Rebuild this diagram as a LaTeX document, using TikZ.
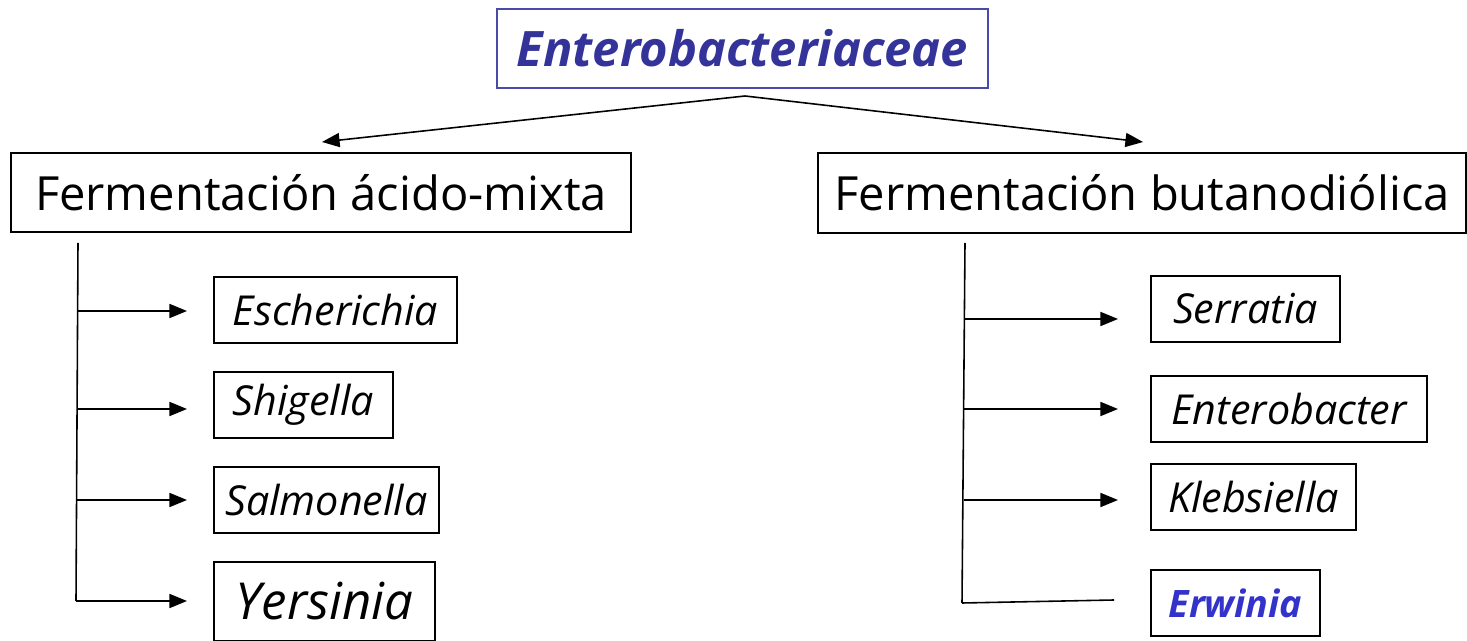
\documentclass[tikz,border=0pt]{standalone}
\usepackage{fontspec}
\setmainfont{Open Sans}
\usetikzlibrary{arrows.meta}
\definecolor{titleblue}{HTML}{333399}
\definecolor{titleframe}{HTML}{4A4AA8}
\definecolor{erwblue}{HTML}{3333CC}
\tikzset{
  box/.style={draw=black, line width=0.9pt, inner sep=0pt, align=center},
  genus/.style={box, minimum height=1.32cm, font=\fontsize{23.5}{26}\selectfont\itshape},
  branch/.style={line width=0.9pt},
  tip/.style={branch, -{Triangle[length=10pt,width=8pt]}},
}
\begin{document}
\begin{tikzpicture}[x=0.02cm, y=-0.02cm]
\useasboundingbox (0,0) rectangle (1467,641);

% family
\node[box, draw=titleframe, minimum width=9.82cm, minimum height=1.58cm,
      text=titleblue, font=\fontsize{27.8}{30}\selectfont\bfseries\itshape]
      (fam) at (742.5,48.5) {Enterobacteriaceae};

% fermentation types
\node[box, minimum width=12.4cm, minimum height=1.58cm,
      font=\fontsize{26.8}{30}\selectfont] (mix) at (321,192.5) {Fermentación ácido-mixta};
\node[box, minimum width=12.96cm, minimum height=1.6cm,
      font=\fontsize{26.8}{30}\selectfont] (but) at (1142,193) {Fermentación butanodiólica};

% genera, mixed-acid
\node[genus, minimum width=4.86cm] (esc) at (335.5,310) {Escherichia};
\node[genus, minimum width=3.58cm] (shi) at (303.5,405) {Shigella};
\node[genus, minimum width=4.5cm]  (sal) at (326.5,500) {Salmonella};
\node[genus, minimum width=4.42cm, minimum height=1.58cm,
      font=\fontsize{29}{32}\selectfont\itshape] (yer) at (324.5,601.5) {Yersinia};

% genera, butanediol
\node[genus, minimum width=3.78cm] (ser) at (1245.5,309) {Serratia};
\node[genus, minimum width=5.52cm] (ent) at (1289,409) {Enterobacter};
\node[genus, minimum width=4.1cm]  (kle) at (1253.5,497) {Klebsiella};
\node[genus, minimum width=3.38cm, text=erwblue,
      font=\fontsize{21.5}{24}\selectfont\bfseries\itshape] (erw) at (1235.5,603) {Erwinia};

% split below the family box
\coordinate (apex) at (745,96);
\coordinate (toMix) at (322,142);
\coordinate (toBut) at (1143,142);
\draw[tip] (apex) -- (toMix);
\draw[tip] (apex) -- (toBut);

% mixed-acid trunk
\coordinate (mt) at (78,243);
\coordinate (mb) at (76,601);
\draw[branch] (mt) -- (mb);
\draw[tip] (77.6,311) -- (187,311);
\draw[tip] (77.1,409) -- (187,409);
\draw[tip] (76.6,500) -- (187,500);
\draw[tip] (mb) -- (187,601);

% butanediol trunk
\coordinate (bt) at (965,243);
\coordinate (bb) at (962,603);
\draw[branch] (bt) -- (bb);
\draw[tip] (964.4,319) -- (1118,319);
\draw[tip] (963.7,409) -- (1118,409);
\draw[tip] (963.9,500) -- (1118,500);
\draw[branch] (bb) -- (1114,600);
\end{tikzpicture}
\end{document}
